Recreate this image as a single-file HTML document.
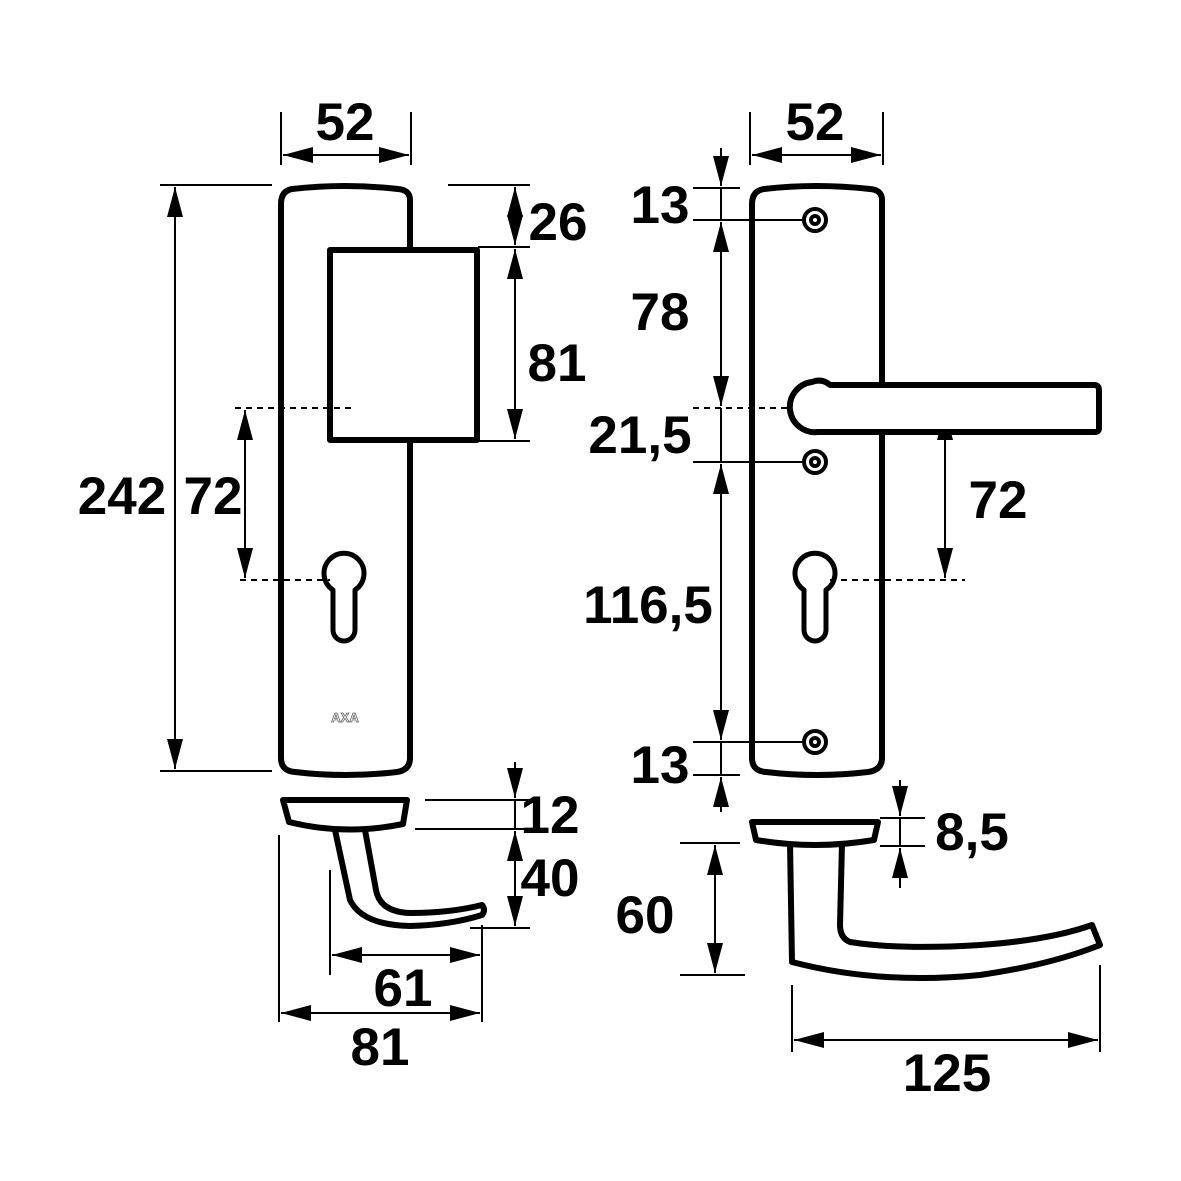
<!DOCTYPE html>
<html><head><meta charset="utf-8"><style>html,body{margin:0;padding:0;background:#fff}svg{display:block}text{font-family:"Liberation Sans",sans-serif;font-weight:bold;font-size:53px;fill:#000}</style></head><body>
<svg width="1181" height="1181" viewBox="0 0 1181 1181" xmlns="http://www.w3.org/2000/svg">
<defs>
<marker id="a" markerUnits="userSpaceOnUse" markerWidth="32" markerHeight="16" refX="30" refY="8" orient="auto-start-reverse"><path d="M0,0 L30,8 L0,16 Z" fill="#000"/></marker>
</defs>
<g fill="none" stroke="#000" stroke-width="2">
<line x1="281" y1="112" x2="281" y2="165"/><line x1="411" y1="112" x2="411" y2="165"/>
<line x1="283" y1="155" x2="409" y2="155" marker-start="url(#a)" marker-end="url(#a)"/>
<line x1="160" y1="185" x2="272" y2="185"/><line x1="160" y1="771" x2="272" y2="771"/>
<line x1="175" y1="187" x2="175" y2="769" marker-start="url(#a)" marker-end="url(#a)"/>
<line x1="245" y1="410" x2="245" y2="578" marker-start="url(#a)" marker-end="url(#a)"/>
<line x1="235" y1="408" x2="355" y2="408" stroke-dasharray="6,5"/>
<line x1="240" y1="580" x2="330" y2="580" stroke-dasharray="6,5"/>
<line x1="448" y1="185" x2="530" y2="185"/><line x1="478" y1="247" x2="530" y2="247"/><line x1="478" y1="441" x2="530" y2="441"/>
<line x1="515" y1="187" x2="515" y2="245" marker-start="url(#a)" marker-end="url(#a)"/>
<line x1="515" y1="249" x2="515" y2="439" marker-start="url(#a)" marker-end="url(#a)"/>
<line x1="425" y1="800" x2="530" y2="800"/><line x1="415" y1="829" x2="530" y2="829"/><line x1="470" y1="928" x2="530" y2="928"/>
<line x1="515" y1="762" x2="515" y2="798" marker-end="url(#a)"/>
<line x1="515" y1="800" x2="515" y2="829"/>
<line x1="515" y1="831" x2="515" y2="926" marker-start="url(#a)" marker-end="url(#a)"/>
<line x1="330" y1="870" x2="330" y2="975"/><line x1="482" y1="925" x2="482" y2="1022"/><line x1="279" y1="835" x2="279" y2="1022"/>
<line x1="332" y1="955" x2="480" y2="955" marker-start="url(#a)" marker-end="url(#a)"/>
<line x1="281" y1="1013" x2="480" y2="1013" marker-start="url(#a)" marker-end="url(#a)"/>
<line x1="750" y1="112" x2="750" y2="165"/><line x1="883" y1="112" x2="883" y2="165"/>
<line x1="752" y1="155" x2="881" y2="155" marker-start="url(#a)" marker-end="url(#a)"/>
<line x1="693" y1="188" x2="740" y2="188"/><line x1="693" y1="220" x2="805" y2="220"/>
<line x1="693" y1="462" x2="805" y2="462"/><line x1="693" y1="742" x2="805" y2="742"/><line x1="693" y1="775" x2="740" y2="775"/>
<line x1="693" y1="408" x2="965" y2="408" stroke-dasharray="6,5"/>
<line x1="830" y1="580" x2="965" y2="580" stroke-dasharray="6,5"/>
<line x1="721" y1="148" x2="721" y2="186" marker-end="url(#a)"/>
<line x1="721" y1="188" x2="721" y2="220"/>
<line x1="721" y1="222" x2="721" y2="406" marker-start="url(#a)" marker-end="url(#a)"/>
<line x1="721" y1="408" x2="721" y2="462"/>
<line x1="721" y1="464" x2="721" y2="740" marker-start="url(#a)" marker-end="url(#a)"/>
<line x1="721" y1="742" x2="721" y2="775"/>
<line x1="721" y1="812" x2="721" y2="777" marker-end="url(#a)"/>
<line x1="945" y1="410" x2="945" y2="578" marker-start="url(#a)" marker-end="url(#a)"/>
<line x1="880" y1="818" x2="925" y2="818"/><line x1="880" y1="846" x2="925" y2="846"/>
<line x1="900" y1="780" x2="900" y2="816" marker-end="url(#a)"/>
<line x1="900" y1="818" x2="900" y2="846"/>
<line x1="900" y1="888" x2="900" y2="848" marker-end="url(#a)"/>
<line x1="680" y1="843" x2="740" y2="843"/><line x1="680" y1="975" x2="745" y2="975"/>
<line x1="715" y1="845" x2="715" y2="973" marker-start="url(#a)" marker-end="url(#a)"/>
<line x1="792" y1="985" x2="792" y2="1052"/><line x1="1100" y1="965" x2="1100" y2="1052"/>
<line x1="794" y1="1040" x2="1098" y2="1040" marker-start="url(#a)" marker-end="url(#a)"/>
</g>
<g fill="none" stroke="#000" stroke-width="6" stroke-linejoin="round">
<path d="M410,247 L410,200 Q410,190 398,189 Q345,183 292,189 Q281,191 281,204 L281,758 Q281,771 295,772 Q345,778 397,772 Q410,770 410,758 L410,441"/>
<rect x="330" y="250" width="147" height="190"/>
<path d="M333,618 L333,590 A20,20 0 1 1 355,590 L355,630 A11,11 0 0 1 333,630 Z" stroke-width="5"/>
<path d="M283,800 L407,800 L403,824 Q345,836 289,822 Z"/>
<path d="M335,830 L350,900 Q362,925 410,926 Q450,925 482,915 Q486,910 482,905 Q450,913 410,913 Q380,912 376,890 L365,830"/>
<path d="M882,383 L882,200 Q882,190 870,189 Q816,183 764,189 Q752,191 752,204 L752,758 Q752,771 766,772 Q816,778 868,772 Q882,770 882,758 L882,433"/>
<path d="M804,618 L804,590 A20,20 0 1 1 826,590 L826,630 A11,11 0 0 1 804,630 Z" stroke-width="5"/>
<g stroke-width="4"><circle cx="815" cy="220" r="11"/><circle cx="815" cy="220" r="4"/>
<circle cx="815" cy="462" r="11"/><circle cx="815" cy="462" r="4"/>
<circle cx="815" cy="742" r="11"/><circle cx="815" cy="742" r="4"/></g>
<path d="M830,385 Q822,378 812,382 A25,25 0 0 0 818,432 L1095,432 Q1099,432 1099,428 L1099,390 Q1099,385 1094,385 Z" fill="#fff"/>
<path d="M752,822 L878,822 L874,840 Q815,850 756,840 Z"/>
<path d="M790,843 L792,962 Q880,985 980,975 Q1050,965 1100,945 L1092,925 Q1050,940 980,945 Q900,950 850,942 Q840,938 840,925 L842,843"/>
</g>
<text x="345" y="722" text-anchor="middle" style="font-size:13px;fill:#fff;stroke:#666;stroke-width:0.8">AXA</text>
<text x="345" y="140" text-anchor="middle">52</text>
<text x="122" y="514" text-anchor="middle">242</text>
<text x="213" y="514" text-anchor="middle">72</text>
<text x="558" y="240" text-anchor="middle">26</text>
<text x="557" y="381" text-anchor="middle">81</text>
<text x="550" y="833" text-anchor="middle">12</text>
<text x="550" y="896" text-anchor="middle">40</text>
<text x="403" y="1006" text-anchor="middle">61</text>
<text x="380" y="1065" text-anchor="middle">81</text>
<text x="815" y="140" text-anchor="middle">52</text>
<text x="660" y="223" text-anchor="middle">13</text>
<text x="660" y="330" text-anchor="middle">78</text>
<text x="640" y="453" text-anchor="middle">21,5</text>
<text x="648" y="623" text-anchor="middle">116,5</text>
<text x="660" y="783" text-anchor="middle">13</text>
<text x="998" y="518" text-anchor="middle">72</text>
<text x="972" y="850" text-anchor="middle">8,5</text>
<text x="645" y="933" text-anchor="middle">60</text>
<text x="947" y="1091" text-anchor="middle">125</text>
</svg>
</body></html>
